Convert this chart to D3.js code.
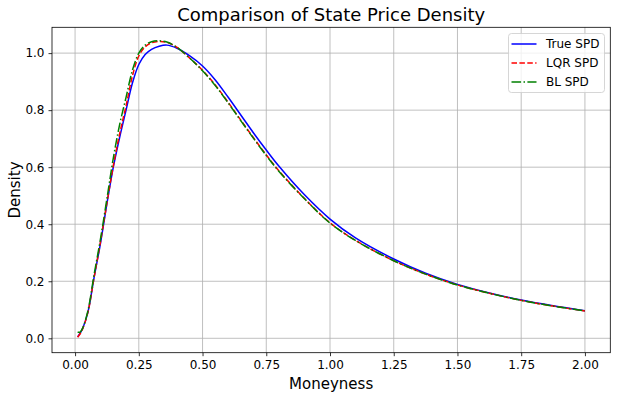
<!DOCTYPE html>
<html lang="en">
<head>
<meta charset="utf-8">
<title>Comparison of State Price Density</title>
<script src="https://d3js.org/d3.v7.min.js"></script>
<style>
  body { margin: 0; background: #fff; }
  svg { font-family: "DejaVu Sans", sans-serif; }
</style>
</head>
<body>
<div id="chart"></div>
<script>
// values
const moneyness = [0.01, 0.02, 0.03, 0.05, 0.075, 0.1, 0.125, 0.15, 0.175, 0.2, 0.225, 0.25, 0.275, 0.3, 0.33, 0.36,
  0.4, 0.45, 0.5, 0.55, 0.6, 0.65, 0.7, 0.75, 0.8, 0.9, 1.0, 1.1, 1.25, 1.375, 1.5, 1.625, 1.75, 1.875, 2.0];
const trueSpd = [0.005, 0.018, 0.035, 0.09, 0.215, 0.335, 0.472, 0.6, 0.705, 0.8, 0.895, 0.96, 0.995, 1.013, 1.024, 1.028,
  1.017, 0.99, 0.955, 0.906, 0.846, 0.783, 0.72, 0.66, 0.603, 0.503, 0.418, 0.352, 0.278, 0.228, 0.189, 0.159, 0.134, 0.114, 0.097];
const lqrSpd = [0.004, 0.016, 0.034, 0.09, 0.215, 0.34, 0.475, 0.605, 0.718, 0.815, 0.92, 0.99, 1.022, 1.036, 1.041, 1.038,
  1.02, 0.982, 0.94, 0.888, 0.828, 0.765, 0.703, 0.643, 0.587, 0.49, 0.405, 0.343, 0.272, 0.225, 0.187, 0.158, 0.133, 0.113, 0.096];
const blSpd = [0.021, 0.022, 0.036, 0.095, 0.225, 0.35, 0.49, 0.632, 0.75, 0.845, 0.94, 1.0, 1.028, 1.04, 1.043, 1.039,
  1.02, 0.982, 0.938, 0.886, 0.826, 0.763, 0.701, 0.641, 0.585, 0.489, 0.404, 0.343, 0.272, 0.225, 0.187, 0.158, 0.133, 0.113, 0.096];
const seriesNames = ["True SPD", "LQR SPD", "BL SPD"];
const xTicks = [0, 0.25, 0.5, 0.75, 1.0, 1.25, 1.5, 1.75, 2.0];
const yTicks = [0, 0.2, 0.4, 0.6, 0.8, 1.0];

const W = 617, H = 399;
const margin = {top: 27.3, right: 6.7, bottom: 46.3, left: 52};
const width = W - margin.left - margin.right;
const height = H - margin.top - margin.bottom;

const svg = d3.select("#chart").append("svg")
  .attr("width", W).attr("height", H);

const g = svg.append("g")
  .attr("transform", "translate(" + margin.left + "," + margin.top + ")");

const xScale = d3.scaleLinear().domain([-0.0905, 2.0995]).range([0, width]);
const yScale = d3.scaleLinear().domain([-0.0505, 1.0905]).range([height, 0]);

// grid
g.append("g").selectAll("line").data(xTicks).join("line")
  .attr("x1", d => xScale(d)).attr("x2", d => xScale(d))
  .attr("y1", 0).attr("y2", height)
  .attr("stroke", "#b0b0b0").attr("stroke-width", 0.8);
g.append("g").selectAll("line").data(yTicks).join("line")
  .attr("y1", d => yScale(d)).attr("y2", d => yScale(d))
  .attr("x1", 0).attr("x2", width)
  .attr("stroke", "#b0b0b0").attr("stroke-width", 0.8);

// axes
const xAxis = d3.axisBottom(xScale).tickValues(xTicks).tickFormat(d3.format(".2f")).tickSize(3.5).tickPadding(4);
const yAxis = d3.axisLeft(yScale).tickValues(yTicks).tickFormat(d3.format(".1f")).tickSize(3.5).tickPadding(4);

const gx = g.append("g").attr("transform", "translate(0," + height + ")").call(xAxis);
const gy = g.append("g").call(yAxis);
[gx, gy].forEach(a => {
  a.select(".domain").remove();
  a.selectAll(".tick line").attr("stroke", "#000").attr("stroke-width", 0.8);
  a.selectAll(".tick text").attr("font-size", 12).attr("fill", "#000")
    .attr("font-family", "DejaVu Sans");
});

// lines
const line = vals => d3.line()
  .x((d, i) => xScale(moneyness[i]))
  .y(d => yScale(d))
  .curve(d3.curveCatmullRom.alpha(0.5))(vals);

const styles = [
  {vals: trueSpd, color: "#0000ff", dash: null},
  {vals: lqrSpd, color: "#ff0000", dash: "5.5,2.4"},
  {vals: blSpd, color: "#008000", dash: "9.6,2.4,1.5,2.4"}
];

styles.forEach(s => {
  g.append("path")
    .attr("d", line(s.vals))
    .attr("fill", "none")
    .attr("stroke", s.color)
    .attr("stroke-width", 1.5)
    .attr("stroke-dasharray", s.dash);
});

// frame
g.append("rect")
  .attr("width", width).attr("height", height)
  .attr("fill", "none").attr("stroke", "#000").attr("stroke-width", 0.8);

// title and labels
svg.append("text")
  .attr("x", margin.left + width / 2).attr("y", 21)
  .attr("text-anchor", "middle").attr("font-size", 18)
  .text("Comparison of State Price Density");

svg.append("text")
  .attr("x", margin.left + width / 2).attr("y", 389)
  .attr("text-anchor", "middle").attr("font-size", 15)
  .text("Moneyness");

svg.append("text")
  .attr("transform", "translate(20," + (margin.top + height / 2) + ") rotate(-90)")
  .attr("text-anchor", "middle").attr("font-size", 15)
  .text("Density");

// legend
const legend = svg.append("g").attr("transform", "translate(508.5,33.5)");
legend.append("rect")
  .attr("width", 96).attr("height", 59).attr("rx", 3)
  .attr("fill", "#fff").attr("fill-opacity", 0.8)
  .attr("stroke", "#cccccc").attr("stroke-width", 0.8);

styles.forEach((s, i) => {
  const yy = 10.5 + i * 19;
  legend.append("line")
    .attr("x1", 3).attr("x2", 28).attr("y1", yy).attr("y2", yy)
    .attr("stroke", s.color).attr("stroke-width", 1.5)
    .attr("stroke-dasharray", s.dash);
  legend.append("text")
    .attr("x", 37.5).attr("y", yy + 4.3)
    .attr("font-size", 12)
    .text(seriesNames[i]);
});
</script>
</body>
</html>
